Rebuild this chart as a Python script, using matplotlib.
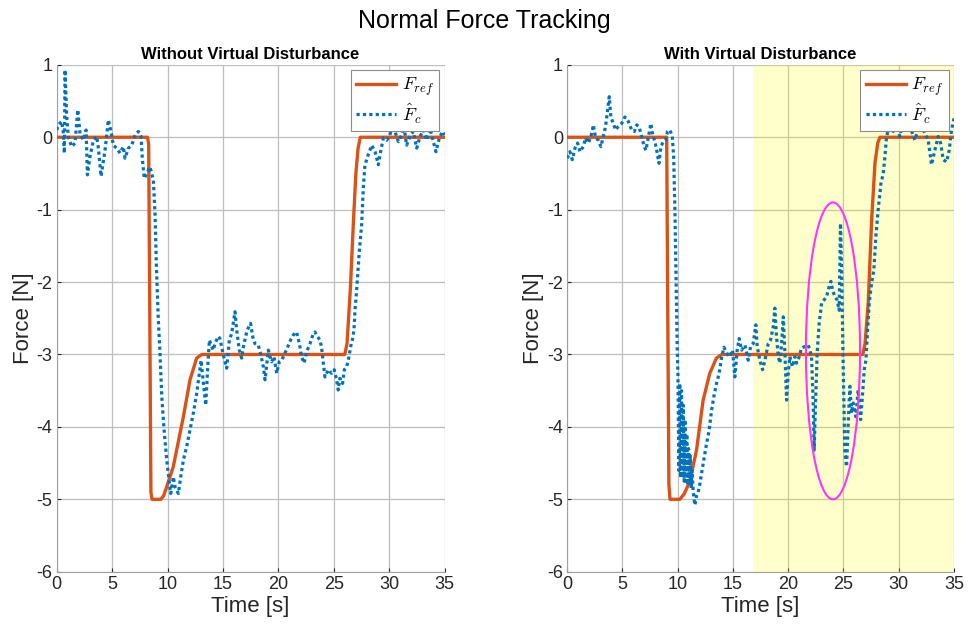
import numpy as np
import matplotlib
matplotlib.use('Agg')
import matplotlib.pyplot as plt
from matplotlib.patches import Ellipse

plt.rcParams['font.family'] = ['Liberation Sans', 'DejaVu Sans']
plt.rcParams['mathtext.fontset'] = 'cm'
plt.rcParams['axes.unicode_minus'] = False

# Reference force, left panel (without virtual disturbance)
t_ref_left = [0, 8.2, 8.3, 8.4, 8.5, 8.6, 9.4, 9.65, 9.92, 10.52, 11.43, 12.03, 12.63, 13.09,
              26.0, 26.2, 26.5, 26.8, 27.0, 27.2, 27.4, 35]
f_ref_left = [0, 0, -0.1, -2.5, -4.9, -5.0, -5.0, -4.95, -4.83, -4.55, -3.86, -3.35, -3.05, -3.0,
              -3.0, -2.85, -2.1, -1.1, -0.5, -0.15, 0, 0]

# Estimated contact force, left panel
t_c_left = [0.0, 0.15, 0.45, 0.6, 0.69, 0.75, 0.9, 1.05, 1.35, 1.65, 1.9, 2.1, 2.4, 2.65, 2.77,
            3.0, 3.31, 3.61, 3.76, 4.0, 4.36, 4.66, 4.9, 5.11, 5.41, 5.71, 6.01, 6.16, 6.47,
            6.77, 7.07, 7.37, 7.61, 7.73, 7.91, 8.12, 8.42, 8.72, 8.87, 9.0, 9.17, 9.32, 9.48,
            9.69, 9.93, 10.17, 10.29, 10.53, 10.68, 10.98, 11.19, 11.43, 11.73, 12.03, 12.33,
            12.63, 12.87, 13.03, 13.24, 13.45, 13.63, 13.78, 13.99, 14.13, 14.28, 14.58, 14.73,
            15.04, 15.34, 15.58, 15.79, 16.09, 16.24, 16.48, 16.69, 16.9, 17.2, 17.5, 17.68,
            17.89, 18.19, 18.4, 18.65, 18.8, 19.1, 19.25, 19.4, 19.61, 19.85, 20.09, 20.3, 20.6,
            20.81, 21.11, 21.35, 21.65, 21.9, 22.1, 22.32, 22.56, 22.86, 23.16, 23.31, 23.52,
            23.76, 23.91, 24.06, 24.21, 24.51, 24.81, 25.05, 25.26, 25.41, 25.56, 25.8, 25.96,
            26.17, 26.38, 26.53, 26.71, 26.83, 26.92, 27.07, 27.3, 27.52, 27.67, 27.82, 28.12,
            28.43, 28.73, 29.03, 29.18, 29.48, 29.78, 30.08, 30.29, 30.53, 30.83, 31.13, 31.34,
            31.58, 31.88, 32.18, 32.49, 32.79, 33.09, 33.39, 33.69, 33.99, 34.23, 34.53, 34.83,
            35.0]
f_c_left = [0.10, 0.17, 0.22, 0.05, -0.22, 0.93, 0.28, 0.0, -0.13, -0.08, 0.38, 0.05, -0.04,
            0.10, -0.52, -0.27, -0.04, 0.01, -0.15, -0.54, -0.18, 0.24, 0.08, -0.11, -0.15,
            -0.22, -0.13, -0.29, -0.15, -0.11, 0.03, 0.08, 0.01, -0.31, -0.57, -0.50, -0.41,
            -0.59, -1.05, -1.8, -2.52, -2.98, -3.58, -4.04, -4.46, -4.78, -4.92, -4.69, -4.83,
            -4.92, -4.69, -4.46, -4.27, -4.04, -3.81, -3.54, -3.26, -3.08, -3.4, -3.70, -3.17,
            -2.8, -2.89, -2.94, -2.85, -2.75, -2.78, -3.01, -3.19, -2.8, -2.71, -2.41, -2.66,
            -2.94, -3.05, -2.85, -2.66, -2.57, -2.75, -2.85, -2.87, -2.99, -3.17, -3.35, -2.94,
            -3.03, -3.10, -3.03, -3.26, -3.10, -3.08, -2.98, -2.91, -2.8, -2.73, -2.69, -2.85,
            -3.03, -3.12, -2.96, -2.85, -2.71, -2.69, -2.75, -2.8, -2.91, -3.12, -3.31, -3.21,
            -3.26, -3.21, -3.35, -3.49, -3.33, -3.40, -3.21, -3.17, -3.03, -2.89, -2.78, -2.66,
            -2.39, -2.11, -1.6, -1.21, -0.70, -0.38, -0.24, -0.11, -0.2, -0.38, -0.24, -0.01,
            -0.04, 0.03, 0.22, 0.08, -0.06, 0.03, 0.15, -0.11, 0.01, 0.08, -0.15, 0.01, 0.10,
            -0.04, 0.12, -0.06, -0.2, -0.01, 0.08, 0.03]

# Reference force, right panel (with virtual disturbance)
t_ref_right = [0, 9.0, 9.1, 9.2, 9.3, 10.2, 10.6, 11.1, 11.7, 12.3, 12.9, 13.5, 14.0,
               26.75, 26.95, 27.24, 27.55, 27.85, 28.1, 28.3, 35]
f_ref_right = [0, 0, -2.5, -4.8, -5.0, -5.0, -4.92, -4.75, -4.32, -3.63, -3.26, -3.05, -3.0,
               -3.0, -2.85, -2.29, -1.14, -0.36, -0.08, 0, 0]

# Estimated contact force, right panel
t_c_right = [0, 0.24, 0.46, 0.7, 0.94, 1.15, 1.45, 1.66, 1.9, 2.15, 2.36, 2.57, 2.81, 3.05,
             3.26, 3.47, 3.65, 3.8, 3.95, 4.17, 4.38, 4.62, 4.92, 5.22, 5.52, 5.83, 6.07, 6.28,
             6.49, 6.73, 6.97, 7.12, 7.33, 7.57, 7.73, 7.94, 8.12, 8.3, 8.48, 8.69, 8.9, 9.08,
             9.29, 9.51, 9.63, 9.75, 9.85, 9.95, 10.02, 10.1, 10.18, 10.26, 10.34, 10.42, 10.5,
             10.58, 10.66, 10.74, 10.82, 10.9, 10.98, 11.06, 11.14, 11.22, 11.3, 11.4, 11.55,
             11.7, 11.85, 12.01, 12.31, 12.61, 12.85, 13.06, 13.27, 13.51, 13.75,
             13.97, 14.18, 14.42, 14.72, 14.96, 15.17, 15.38, 15.56, 15.78, 16.08, 16.38, 16.59,
             16.83, 17.07, 17.19, 17.43, 17.68, 17.89, 18.19, 18.4, 18.64, 18.79, 18.94, 19.1,
             19.25, 19.4, 19.55, 19.7, 19.85, 20.0, 20.15, 20.39, 20.6, 20.75, 21.0, 21.2, 21.51,
             21.81, 21.96, 22.11, 22.26, 22.35, 22.47, 22.62, 22.8, 23.02, 23.23, 23.47, 23.71,
             23.86, 24.01, 24.22, 24.43, 24.61, 24.73, 24.83, 24.98, 25.13, 25.28, 25.43, 25.58,
             25.73, 25.88, 26.12, 26.33, 26.55, 26.73, 26.88, 27.03, 27.15, 27.33, 27.54, 27.75,
             27.93, 28.14, 28.39, 28.6, 28.75, 28.9, 29.05, 29.26, 29.5, 29.8, 30.1, 30.35,
             30.65, 30.95, 31.25, 31.46, 31.77, 32.07, 32.37, 32.67, 32.97, 33.27, 33.57, 33.79,
             34.03, 34.33, 34.57, 34.78, 35.0]
f_c_right = [-0.29, -0.20, -0.31, -0.15, -0.08, -0.20, -0.13, -0.01, -0.08, 0.01, 0.17, -0.01,
             -0.04, -0.13, 0.01, 0.15, 0.38, 0.56, 0.28, 0.19, 0.10, 0.15, 0.19, 0.28, 0.22,
             0.10, 0.08, 0.17, 0.15, 0.01, -0.13, -0.18, -0.01, 0.19, 0.03, -0.06, -0.2, -0.36,
             -0.13, -0.06, -0.04, 0.08, 0.10, 0.01, -0.27, -1.05, -2.0, -2.9,
             -3.3, -4.6, -3.4, -4.7, -3.5, -4.7, -3.7, -4.75, -3.9, -4.75, -4.1, -4.8, -4.3,
             -4.8, -4.4, -4.85, -4.6, -4.9, -5.08, -4.95, -4.9,
             -4.78, -4.5, -4.23, -4.04,
             -3.77, -3.58, -3.4, -3.26, -3.04, -2.9, -2.98, -3.03, -2.94, -3.31, -2.94, -2.78,
             -2.94, -2.87, -3.08, -2.89, -2.85, -2.59, -2.89, -3.08, -3.21, -3.08, -2.85, -2.8,
             -2.62, -2.36, -2.75, -3.03, -3.12, -2.85, -2.48, -2.98, -3.63, -3.26, -3.03, -3.17,
             -3.03, -3.12, -3.03, -2.91, -2.89, -2.87, -2.94, -3.03, -3.67, -4.32, -3.67, -2.98,
             -2.57, -2.29, -2.25, -2.2, -2.06, -1.99, -2.11, -2.2, -2.25, -2.39, -1.19, -1.83,
             -3.21, -4.37, -4.55, -3.95, -3.44, -3.81, -3.67, -3.86, -3.49, -3.9, -3.54, -3.21,
             -3.08, -2.75, -2.29, -2.02, -1.83, -1.37, -1.0, -0.64, -0.5, -0.27, 0.01, 0.1, 0.15,
             0.08, 0.17, 0.01, 0.19, 0.08, 0.17, 0.05, -0.04, 0.12, 0.17, 0.05, -0.04, -0.38,
             -0.18, 0.01, -0.08, -0.31, -0.34, -0.18, 0.1, 0.26]

# Disturbance window and highlighted region
disturb_start, disturb_end = 16.8, 35
ell_center = (24.05, -2.95)
ell_size = (4.9, 4.1)

orange = '#D95319'
blue = '#0072BD'

fig = plt.figure(figsize=(9.68, 6.32), dpi=100)
ax1 = fig.add_axes([0.0586, 0.0954, 0.4006, 0.802])
ax2 = fig.add_axes([0.586, 0.0954, 0.3995, 0.802])


def style_axes(ax, title):
    ax.set_xlim(0, 35)
    ax.set_ylim(-6, 1)
    ax.set_xticks(np.arange(0, 36, 5))
    ax.set_yticks(np.arange(-6, 2, 1))
    ax.grid(True, color='#bdbdbd', linewidth=0.9)
    ax.set_axisbelow(True)
    for s in ['top', 'right']:
        ax.spines[s].set_visible(False)
    for s in ['left', 'bottom']:
        ax.spines[s].set_color('#a0a0a0')
    ax.tick_params(direction='in', length=3, labelsize=13, colors='#262626', pad=3)
    ax.set_xlabel('Time [s]', fontsize=16, color='#262626', labelpad=2)
    ax.set_ylabel('Force [N]', fontsize=16, color='#262626', labelpad=2)
    ax.set_title(title, fontsize=12, fontweight='bold', pad=4)


ax1.plot(t_ref_left, f_ref_left, color=orange, lw=2.4, label=r'$F_{ref}$', zorder=3)
ax1.plot(t_c_left, f_c_left, color=blue, lw=2.3, ls=(0, (1, 1)), label=r'$\hat{F}_c$', zorder=4)
style_axes(ax1, 'Without Virtual Disturbance')

ax2.axvspan(disturb_start, disturb_end, color='yellow', alpha=0.2, lw=0, zorder=1)
ax2.plot(t_ref_right, f_ref_right, color=orange, lw=2.4, label=r'$F_{ref}$', zorder=3)
ax2.plot(t_c_right, f_c_right, color=blue, lw=2.3, ls=(0, (1, 1)), label=r'$\hat{F}_c$', zorder=4)
ax2.add_patch(Ellipse(ell_center, ell_size[0], ell_size[1], fill=False,
                      edgecolor='#ff33ff', lw=1.5, zorder=5))
style_axes(ax2, 'With Virtual Disturbance')

for ax in (ax1, ax2):
    leg = ax.legend(loc='upper right', fontsize=13, fancybox=False, framealpha=1,
                    edgecolor='#8c8c8c', borderaxespad=0.3, handlelength=2.2,
                    handletextpad=0.3, borderpad=0.3, labelspacing=0.2)
    leg.get_frame().set_linewidth(0.8)

fig.suptitle('Normal Force Tracking', fontsize=18, y=0.985)

plt.savefig('out.png', dpi=100)
